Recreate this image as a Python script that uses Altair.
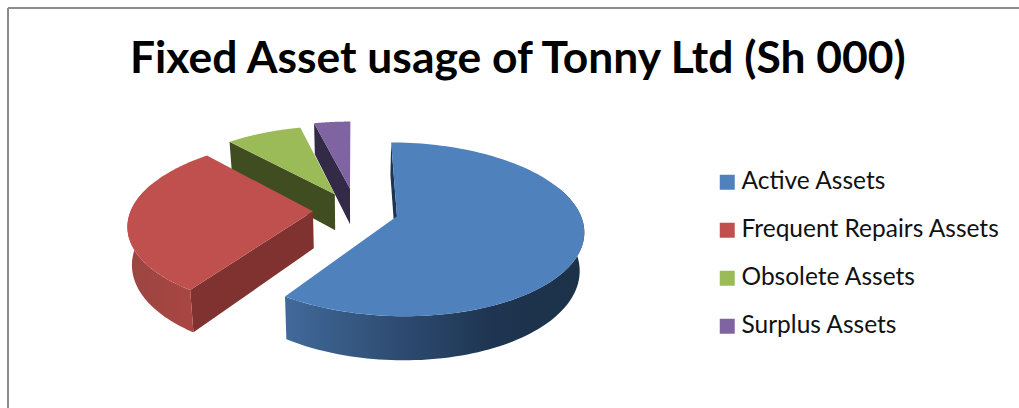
import numpy as np
import altair as alt

# Chart content
TITLE = "Fixed Asset usage of Tonny Ltd (Sh 000)"
categories = ["Active Assets", "Frequent Repairs Assets", "Obsolete Assets", "Surplus Assets"]
values = [595, 288, 79, 38]
colors = ["#4f81bd", "#c0504d", "#9bbb59", "#8064a2"]
cut_colors = ["#1d3550", "#7f3230", "#404d20", "#332a47"]
explode = [0.25, 0.22, 0.22, 0.27]
side_nudge = [0, 0, 0, 0.015]

# Tilted-pie camera
X0, Y0 = 353, 210
SX, SY = 182, 83
PERSPECTIVE = 0.15
THICKNESS = 37
BASE_SHRINK = 0.98


def project(wx, wy, lower=False):
    """Map a point on the pie plane to the page, optionally on the base face."""
    s = 1 / (1 + PERSPECTIVE * wy)
    px = SX * wx * s
    py = -SY * wy * s
    if lower:
        return [X0 + px * BASE_SHRINK, Y0 + py + THICKNESS * s]
    return [X0 + px, Y0 + py]


def polygon(points):
    pts = [[float(a), float(b)] for a, b in points]
    pts.append(pts[0])
    return {"type": "Feature", "properties": {}, "geometry": {"type": "Polygon", "coordinates": [pts]}}


def layer(feature, name=None, **mark_kwargs):
    feature = dict(feature)
    feature["properties"] = {"name": name}
    return alt.Chart(alt.InlineData(values=[feature], format=alt.DataFormat(type="json"))).mark_geoshape(
        strokeWidth=0, **mark_kwargs
    )


def gradient(stops):
    return alt.Gradient(
        gradient="linear", x1=0, x2=1, y1=0, y2=0,
        stops=[alt.GradientStop(offset=o, color=c) for o, c in stops],
    )


rim_gradients = [
    [(0, "#41699a"), (0.35, "#2f4e75"), (0.7, "#1e3450"), (1, "#1c3248")],
    [(0, "#9a4541"), (1, "#aa4642")],
]

shares = np.array(values, dtype=float) / sum(values)
edges = np.concatenate([[0], np.cumsum(shares)]) * 2 * np.pi

layers = []
for i in reversed(range(len(categories))):
    a1, a2 = edges[i], edges[i + 1]
    mid = (a1 + a2) / 2
    ox, oy = explode[i] * np.sin(mid) + side_nudge[i], explode[i] * np.cos(mid)
    point = lambda a, lower=False: project(ox + np.sin(a), oy + np.cos(a), lower)
    apex_top, apex_low = project(ox, oy), project(ox, oy, True)

    # Cut face on the leading edge of the slice
    cut = polygon([apex_top, point(a1), point(a1, True), apex_low])
    layers.append(layer(cut, fill=cut_colors[i]))

    # Outer wall, only where it faces the viewer
    r1, r2 = max(a1, np.radians(70)), min(a2, np.radians(290))
    if r1 < r2:
        arc = np.linspace(r1, r2, 90)
        wall = polygon([point(a) for a in arc] + [point(a, True) for a in arc[::-1]])
        layers.append(layer(wall, fill=gradient(rim_gradients[i])))

    # Top face carries the colour encoding used by the legend
    arc = np.linspace(a1, a2, 120)
    top = polygon([apex_top] + [point(a) for a in arc])
    layers.append(
        layer(top, name=categories[i]).encode(
            color=alt.Color(
                "properties.name:N",
                scale=alt.Scale(domain=categories, range=colors),
                sort=categories,
                legend=alt.Legend(
                    title=None,
                    orient="none",
                    legendX=715,
                    legendY=170,
                    symbolType="square",
                    symbolSize=225,
                    symbolStrokeWidth=0,
                    labelFont="Lato",
                    labelFontSize=24.5,
                    labelColor="#111111",
                    labelOffset=2,
                    labelLimit=320,
                    rowPadding=23,
                ),
            )
        )
    )

frame_left = alt.Chart(alt.Data(values=[{}])).mark_rule(color="#8c8c8c", strokeWidth=2).encode(
    x=alt.value(8), y=alt.value(8), y2=alt.value(408)
)
frame_top = alt.Chart(alt.Data(values=[{}])).mark_rule(color="#8c8c8c", strokeWidth=2).encode(
    y=alt.value(8), x=alt.value(8), x2=alt.value(1019)
)

chart = (
    alt.layer(frame_left, frame_top, *layers)
    .project(type="identity", scale=1, translate=[0, 0])
    .properties(
        width=1019,
        height=408,
        padding=0,
        background="white",
        autosize=alt.AutoSizeParams(type="none"),
        title=alt.TitleParams(
            TITLE, font="Lato", fontSize=44.4, fontWeight="bold", color="#000000",
            anchor="start", frame="group", dx=130, dy=117, offset=0, baseline="alphabetic",
        ),
    )
    .configure_view(stroke=None)
)

chart.save("out.html", embed_options={"renderer": "svg", "actions": False})
